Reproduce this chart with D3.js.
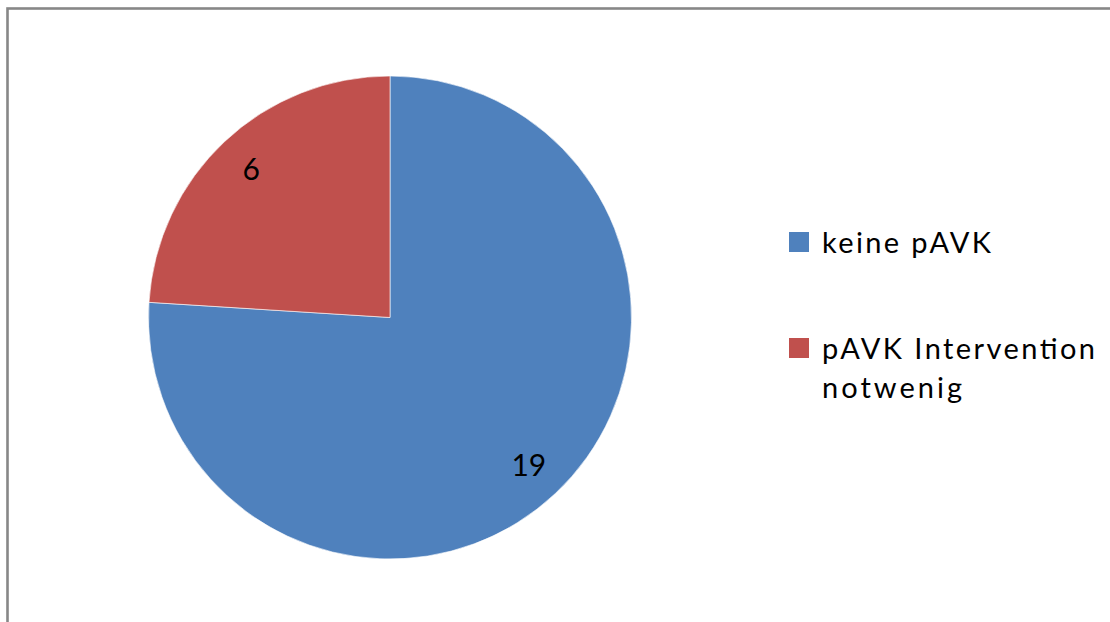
<!DOCTYPE html>
<html>
<head>
<meta charset="utf-8">
<script src="https://cdn.jsdelivr.net/npm/d3@7"></script>
<style>
  html, body { margin: 0; padding: 0; background: #fff; }
  svg { display: block; }
  text { font-family: Lato, "Open Sans", "Liberation Sans", sans-serif; fill: #000; }
</style>
</head>
<body>
<svg id="chart" width="1110" height="622"></svg>
<script>
// Pie data: patients without pAVK vs. pAVK requiring intervention
const categories = ["keine pAVK", "pAVK Intervention notwenig"];
const legendLines = [["keine pAVK"], ["pAVK Intervention", "notwenig"]];
const values = [19, 6];
const colors = ["#4F81BD", "#C0504D"];

const width = 1110, height = 622;
const svg = d3.select("#chart");

// Chart frame (left and top border visible)
svg.append("rect")
  .attr("x", 7.5).attr("y", 8.5)
  .attr("width", 1110).attr("height", 640)
  .attr("fill", "none")
  .attr("stroke", "#878787")
  .attr("stroke-width", 2.6);

const cx = 390, cy = 317.5, radius = 241.5;

const pie = d3.pie().sort(null).value(d => d)(values);
const arc = d3.arc().innerRadius(0).outerRadius(radius);
const labelArc = d3.arc().innerRadius(radius * 0.84).outerRadius(radius * 0.84);

const g = svg.append("g").attr("transform", `translate(${cx},${cy})`);

g.selectAll("path.slice")
  .data(pie)
  .join("path")
  .attr("class", "slice")
  .attr("d", arc)
  .attr("fill", (d, i) => colors[i])
  .attr("stroke", "#fff")
  .attr("stroke-opacity", 0.6)
  .attr("stroke-width", 1);

g.selectAll("text.value")
  .data(pie)
  .join("text")
  .attr("class", "value")
  .attr("transform", d => `translate(${labelArc.centroid(d)})`)
  .attr("text-anchor", "middle")
  .attr("dy", "0.36em")
  .attr("font-size", 30)
  .text(d => d.data);

// Legend
const legend = svg.append("g").attr("transform", "translate(789,232)");
const legendY = [0, 106];
const lineWidths = [[169], [273, 140]];

const item = legend.selectAll("g.item")
  .data(categories)
  .join("g")
  .attr("class", "item")
  .attr("transform", (d, i) => `translate(0,${legendY[i]})`);

item.append("rect")
  .attr("width", 20).attr("height", 20)
  .attr("fill", (d, i) => colors[i]);

item.each(function(d, i) {
  const t = d3.select(this);
  legendLines[i].forEach((line, j) => {
    t.append("text")
      .attr("x", 33)
      .attr("y", 21 + j * 38.6)
      .attr("font-size", 29)
      .attr("textLength", lineWidths[i][j])
      .attr("lengthAdjust", "spacing")
      .text(line);
  });
});
</script>
</body>
</html>
